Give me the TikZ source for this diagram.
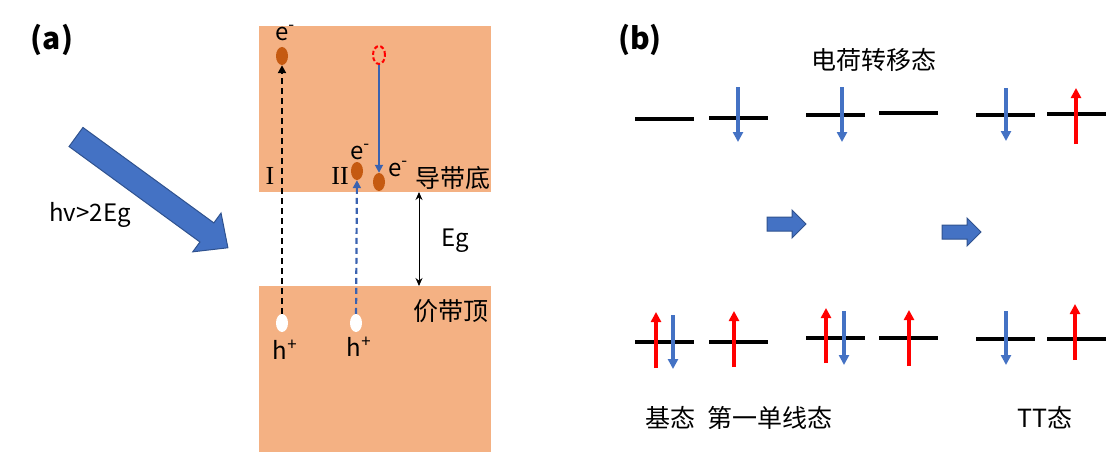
\documentclass[tikz,border=0pt]{standalone}
\usepackage{fontspec}
\setmainfont{Noto Sans CJK SC}
\newfontfamily\romanfont{Liberation Serif}
\usetikzlibrary{arrows.meta}
\usetikzlibrary{shapes.geometric}
\definecolor{color_band}{HTML}{F4B183}
\definecolor{color_electron}{HTML}{C55A11}
\definecolor{color_spin_up}{HTML}{FF0000}
\definecolor{color_spin_down}{HTML}{4472C4}
\definecolor{color_path_blue}{HTML}{3A62B0}
\definecolor{color_block_fill}{HTML}{4472C4}
\definecolor{color_block_edge}{HTML}{2F528F}
\tikzset{
    carrier/.style={ellipse, minimum width=12pt, minimum height=18pt, inner sep=0pt},
    electron/.style={carrier, fill=color_electron},
    hole/.style={carrier, fill=white},
    vacancy/.style={carrier, draw=color_spin_up, dash pattern=on 4pt off 2.5pt, line width=2pt},
    latin/.style={font=\fontsize{24}{28}\selectfont, inner sep=0pt},
    roman/.style={font=\romanfont\fontsize{26}{30}\selectfont, inner sep=0pt},
    cjk/.style={font=\fontsize{25}{29}\selectfont, inner sep=0pt},
    panellabel/.style={font=\fontsize{30}{34}\selectfont\bfseries, inner sep=0pt},
    levelline/.style={line width=3.3pt, black},
    spinupline/.style={color_spin_up, line width=3.3pt, -{Triangle[width=10pt,length=10pt]}},
    spindownline/.style={color_spin_down, line width=3.3pt, -{Triangle[width=10pt,length=10pt]}},
    transition/.style={line width=2.2pt, dash pattern=on 6pt off 4pt, -{Triangle[width=8pt,length=8pt]}},
    blockarrow/.style={fill=color_block_fill, draw=color_block_edge, line width=1pt, line join=miter}
}
\def\orbital(#1,#2){
    \draw[levelline] (#1,#2) -- ++(59,0);
}
\def\spinup(#1,#2,#3){
    \draw[spinupline] (#1,#2) -- (#1,#3);
}
\def\spindown(#1,#2,#3){
    \draw[spindownline] (#1,#2) -- (#1,#3);
}
\def\smallblockarrow(#1,#2){
    \filldraw[blockarrow] (#1,#2-7) -- ++(25,0) -- ++(0,-7) -- ++(14,14) -- ++(-14,14) -- ++(0,-7) -- ++(-25,0) -- cycle;
}

\begin{document}
\begin{tikzpicture}[x=1pt,y=-1pt]
    \useasboundingbox (0,0) rectangle (1108,452);
    % panel (a): bands
    \fill[color_band] (259,26) rectangle (491,192);
    \fill[color_band] (259,286) rectangle (491,452);
    \coordinate (gapTop) at (419,192);
    \coordinate (gapBot) at (419,286);
    \node[panellabel] (alab) at (52,40) {(a)};
    % incoming light
    \begin{scope}[shift={(76,137)}, rotate=-36.1]
        \filldraw[blockarrow] (0,-11.8) -- (162,-11.8) -- (162,-24) -- (188,0) -- (162,24) -- (162,11.8) -- (0,11.8) -- cycle;
    \end{scope}
    \node[latin] (light) at (90,215) {hv>2Eg};
    % carriers
    \node[electron] (e1) at (282,56) {};
    \node[hole] (h1) at (282,323) {};
    \node[electron] (e2) at (357,171) {};
    \node[hole] (h2) at (356,323) {};
    \node[vacancy] (vac) at (379,55) {};
    \node[electron] (e3) at (379,182) {};
    \node[latin] (e1lab) at (285,33) {e\textsuperscript{-}};
    \node[latin] (e2lab) at (360,152) {e\textsuperscript{-}};
    \node[latin] (e3lab) at (398,169) {e\textsuperscript{-}};
    \node[latin] (h1lab) at (285,350) {h\textsuperscript{+}};
    \node[latin] (h2lab) at (359,347) {h\textsuperscript{+}};
    \node[roman] (pathI) at (270,176) {I};
    \node[roman] (pathII) at (340,176) {II};
    % transitions
    \draw[transition, black] (h1) -- (e1);
    \draw[transition, color_path_blue] (h2) -- (e2);
    \draw[color_path_blue, line width=1.8pt, -{Triangle[width=8pt,length=8pt]}] (vac) -- (e3);
    \draw[line width=1pt, {Stealth[width=7pt,length=8pt]}-{Stealth[width=7pt,length=8pt]}] (gapTop) -- (gapBot);
    \node[latin] (eg) at (455,241) {Eg};
    \node[cjk] (cbm) at (453,178) {导带底};
    \node[cjk] (vbm) at (451,311) {价带顶};

    % panel (b)
    \node[panellabel] (blab) at (640,40) {(b)};
    \node[cjk] (ctlab) at (874,60) {电荷转移态};
    \orbital(635,119)
    \orbital(709,118)
    \orbital(806,115)
    \orbital(879,113)
    \orbital(976,115)
    \orbital(1047,114)
    \spindown(738,87,142)
    \spindown(842,87,142)
    \spindown(1006,88,141)
    \spinup(1076,144,88)

    \orbital(635,342)
    \orbital(709,342)
    \orbital(806,338)
    \orbital(879,338)
    \orbital(976,339)
    \orbital(1047,339)
    \spinup(656,368,312)
    \spindown(673,315,369)
    \spinup(734,367,311)
    \spinup(826,363,308)
    \spindown(844,311,365)
    \spinup(909,366,310)
    \spindown(1006,311,365)
    \spinup(1075,360,304)

    \smallblockarrow(767,224)
    \smallblockarrow(942,232)

    % state labels
    \node[cjk] (gslab) at (670,418) {基态};
    \node[cjk] (s1lab) at (770,418) {第一单线态};
    \node[cjk] (ttlab) at (1045,418) {TT态};
\end{tikzpicture}
\end{document}
